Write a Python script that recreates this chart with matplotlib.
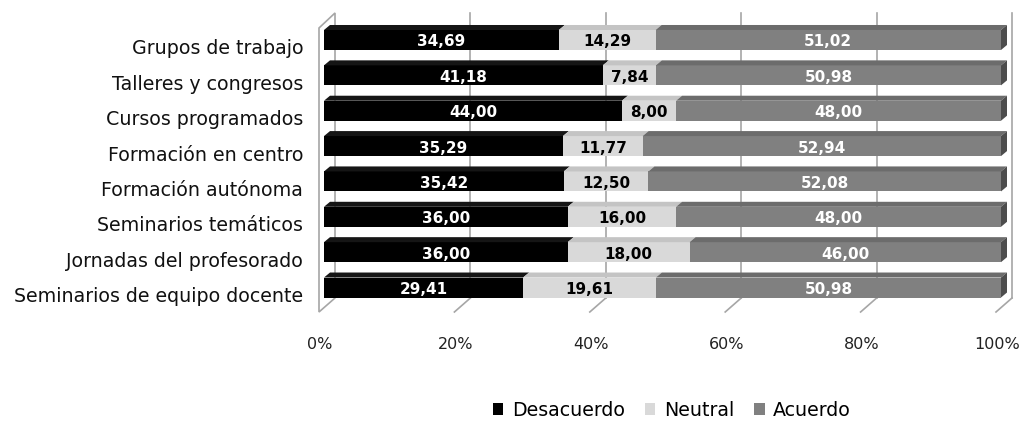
import numpy as np
import matplotlib
matplotlib.use('Agg')
import matplotlib.pyplot as plt
from matplotlib.patches import Polygon, Patch

categories = ['Grupos de trabajo', 'Talleres y congresos', 'Cursos programados',
              'Formación en centro', 'Formación autónoma', 'Seminarios temáticos',
              'Jornadas del profesorado', 'Seminarios de equipo docente']
desacuerdo = [34.69, 41.18, 44.00, 35.29, 35.42, 36.00, 36.00, 29.41]
neutral = [14.29, 7.84, 8.00, 11.77, 12.50, 16.00, 18.00, 19.61]
acuerdo = [51.02, 50.98, 48.00, 52.94, 52.08, 48.00, 46.00, 50.98]
series_names = ['Desacuerdo', 'Neutral', 'Acuerdo']
xticks = [0, 20, 40, 60, 80, 100]

# colours: front, top, side, text
styles = [('#000000', '#151515', '#000000', 'white'),
          ('#d9d9d9', '#c4c4c4', '#b0b0b0', 'black'),
          ('#808080', '#6c6c6c', '#4d4d4d', 'white')]

plt.rcParams['font.family'] = ['DejaVu Sans']

fig = plt.figure(figsize=(10.24, 4.21), dpi=100)
ax = fig.add_axes([324/1024, 0, 677/1024, 1])
ax.set_xlim(0, 100)
ax.set_ylim(10.775, -1.131)
for s in ax.spines.values():
    s.set_visible(False)
ax.set_xticks([])

PX = 100/677      # data x per pixel
PY = 1/35.36      # data y per pixel (downwards)
bh = 20*PY        # front face height
ddx, ddy = 6*PX, 5*PY   # bar depth
n = len(categories)
rows = np.arange(n)

# walls and grid (back wall)
gx_off = 11*PX
top_y = (13-40)*PY
back_y = (298-40)*PY
front_y = (312-40)*PY
fl_dx = 16*PX
tick_y = (345-40)*PY
grid_c = '#a6a6a6'
for t in xticks:
    xb = t + gx_off
    ax.text(xb - fl_dx + 1*PX, tick_y, f'{t}%', ha='center', va='center',
            fontsize=11.5, color='#222222')
    if t == 0:
        continue
    ax.plot([xb, xb], [top_y, back_y], color=grid_c, lw=1.2, zorder=0, clip_on=False)
    ax.plot([xb, xb - fl_dx], [back_y, front_y], color=grid_c, lw=1.2, zorder=0, clip_on=False)
# left wall
lw_pts = [(-5*PX, (28-40)*PY), (gx_off, top_y), (gx_off, back_y), (-5*PX, front_y)]
ax.add_patch(Polygon(lw_pts, closed=True, facecolor='white', edgecolor=grid_c,
                     lw=1.2, zorder=0, clip_on=False))

# bars
data = [desacuerdo, neutral, acuerdo]
left = np.zeros(n)
for k, vals in enumerate(data):
    vals = np.array(vals)
    fc, tc, sc, txc = styles[k]
    ax.barh(rows, vals, left=left, height=bh, color=fc, zorder=3, linewidth=0)
    for i in range(n):
        x0, x1 = left[i], left[i] + vals[i]
        yt = rows[i] - bh/2
        ax.add_patch(Polygon([(x0, yt), (x1, yt), (x1 + ddx, yt - ddy), (x0 + ddx, yt - ddy)],
                             closed=True, facecolor=tc, edgecolor='none', zorder=3,
                             clip_on=False))
        if k == len(data) - 1:
            yb = rows[i] + bh/2
            ax.add_patch(Polygon([(x1, yt), (x1 + ddx, yt - ddy), (x1 + ddx, yb - ddy), (x1, yb)],
                                 closed=True, facecolor=sc, edgecolor='none', zorder=3,
                                 clip_on=False))
        ax.text((x0 + x1)/2, rows[i] + 2*PY, f'{vals[i]:.2f}'.replace('.', ','),
                ha='center', va='center', color=txc, fontsize=11, fontweight='bold', zorder=5)
    left = left + vals

# category labels
ax.set_yticks(rows + 7*PY)
ax.set_yticklabels(categories, fontsize=13.7, color='#111111')
ax.tick_params(axis='y', length=0, pad=15)

handles = [Patch(facecolor=s[0], edgecolor='none') for s in styles]
fig.legend(handles, series_names, loc='center', bbox_to_anchor=(672/1024, 1 - 410/421),
           ncol=3, frameon=False, fontsize=13.7, handlelength=0.55, handleheight=0.55,
           handletextpad=0.45, columnspacing=1.05, borderpad=0.1)

fig.savefig('out.png', dpi=100)
